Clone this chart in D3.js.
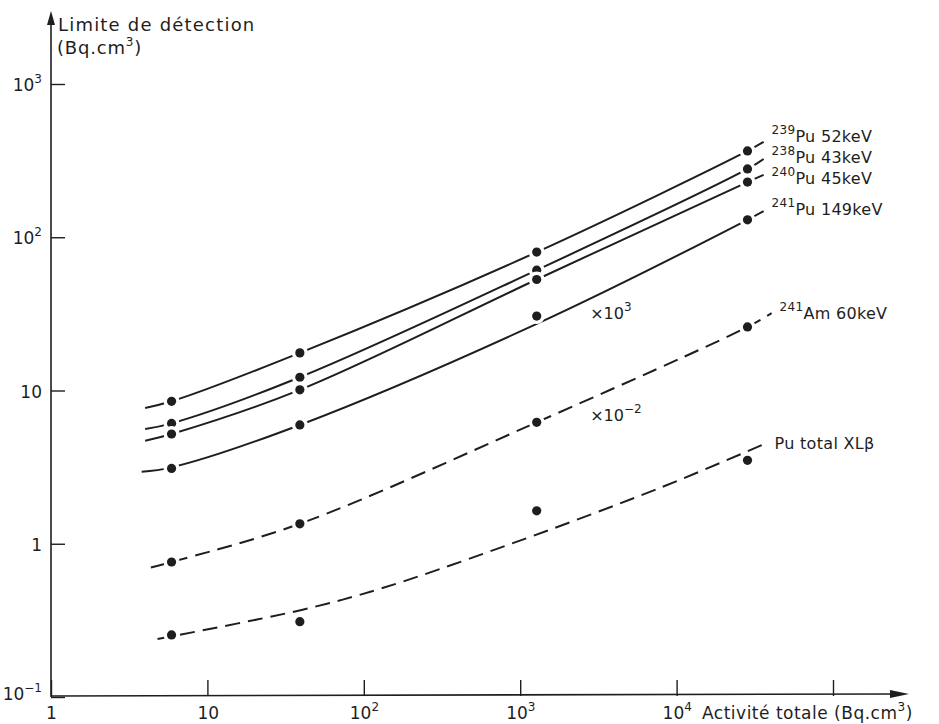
<!DOCTYPE html>
<html>
<head>
<meta charset="utf-8">
<script src="https://cdn.jsdelivr.net/npm/d3@7/dist/d3.min.js"></script>
<style>
body { margin: 0; background: #fff; }
svg text { font-family: "DejaVu Sans", sans-serif; fill: #1e1e1e; }
</style>
</head>
<body>
<div id="chart"></div>
<script>
// measured points (activite totale -> limite de detection)
var activity = [5.9, 39, 1275, 28400];
var pu239 = [8.5, 17.6, 80, 366];
var pu238 = [6.1, 12.2, 61, 279];
var pu240 = [5.2, 10.1, 53, 229];
var pu241 = [3.1, 5.96, 30.6, 130];
var am241 = [0.76, 1.35, 6.2, 26];
var pu_total = [0.254, 0.31, 1.64, 3.5];

// fitted curves as drawn on the figure
var pu239_curve_x = [4, 5.9, 39, 1275, 28400, 36000];
var pu239_curve = [7.7, 8.5, 17.6, 80, 366, 419];
var pu238_curve_x = [4, 5.9, 39, 1275, 28400, 36000];
var pu238_curve = [5.6, 6.1, 12.2, 61, 279, 324];
var pu240_curve_x = [4, 5.9, 39, 1275, 28400, 36000];
var pu240_curve = [4.7, 5.2, 10.1, 53, 229, 255];
var pu241_curve_x = [3.8, 5.9, 39, 1275, 28400, 36000];
var pu241_curve = [2.95, 3.15, 5.96, 27.2, 130, 148];
var am241_curve_x = [4.35, 5.9, 39, 1275, 28400, 40500];
var am241_curve = [0.70, 0.76, 1.35, 6.2, 26, 32];
var pu_total_curve_x = [4.8, 40, 126, 740, 7790, 37600];
var pu_total_curve = [0.239, 0.37, 0.507, 0.94, 2.31, 4.54];

// labels
var label_mass = ["239", "238", "240", "241", "241", ""];
var label_text = ["Pu  52keV", "Pu  43keV", "Pu  45keV", "Pu  149keV", "Am 60keV", "Pu  total  XL\u03b2"];
var multiplier_x = [2800, 2800];
var multiplier_y = [32, 6.9];
var multiplier_text = [["\u00d710", "3"], ["\u00d710", "\u22122"]];

var x_tick_values = [1, 10, 100, 1000, 10000, 100000];
var x_tick_labels = [["1", ""], ["10", ""], ["10", "2"], ["10", "3"], ["10", "4"], ["", ""]];
var y_tick_values = [0.1, 1, 10, 100, 1000];
var y_tick_labels = [["10", "\u22121"], ["1", ""], ["10", ""], ["10", "2"], ["10", "3"]];

var chart = function chart(properties) {
    "use strict";

    var svg = {};
    var x = null;
    var y = null;
    var ink = "#1e1e1e";

    var init = function init(properties) {
        svg = d3.select(properties.div)
            .append("svg")
            .attr("width", 939)
            .attr("height", 724);

        x = d3.scaleLog().domain([1, 100000]).range([51, 833]);
        y = d3.scaleLog().domain([0.1, 1000]).range([697, 84]);
    };

    // text with a small raised part, e.g. 10^3
    var write = function write(g, base, sup, base_first) {
        var t = g.append("text").attr("font-size", 17);
        if (base_first) {
            t.append("tspan").text(base);
            if (sup) {
                t.append("tspan").attr("font-size", 12).attr("dy", -8).text(sup);
            }
        } else {
            if (sup) {
                t.append("tspan").attr("font-size", 12).attr("dy", -8).text(sup);
                t.append("tspan").attr("dy", 8).text(base);
            } else {
                t.append("tspan").text(base);
            }
        }
        return t;
    };

    var draw_axes = function draw_axes() {
        var g = svg.append("g");

        g.append("line")
            .attr("x1", 51).attr("y1", 697).attr("x2", 51).attr("y2", 20)
            .attr("stroke", ink).attr("stroke-width", 1.6);
        g.append("path")
            .attr("d", "M51,11 L47,25 L55,25 Z")
            .attr("fill", ink);

        g.append("line")
            .attr("x1", 51).attr("y1", 696).attr("x2", 896).attr("y2", 694)
            .attr("stroke", ink).attr("stroke-width", 1.6);
        g.append("path")
            .attr("d", "M909,694 L890,690 L890,698 Z")
            .attr("fill", ink);

        var x_axis = d3.axisBottom(x)
            .tickValues(x_tick_values)
            .tickSize(-16)
            .tickFormat("");
        g.append("g")
            .attr("transform", "translate(0,696)")
            .call(x_axis)
            .call(function(a) { a.select(".domain").remove(); })
            .selectAll(".tick line").attr("stroke", ink).attr("stroke-width", 1.4);

        var y_axis = d3.axisLeft(y)
            .tickValues(y_tick_values)
            .tickSize(-14)
            .tickFormat("");
        g.append("g")
            .attr("transform", "translate(51,0)")
            .call(y_axis)
            .call(function(a) { a.select(".domain").remove(); })
            .selectAll(".tick line").attr("stroke", ink).attr("stroke-width", 1.4);

        for (var i = 0; i < x_tick_labels.length; i++) {
            if (!x_tick_labels[i][0]) { continue; }
            write(g, x_tick_labels[i][0], x_tick_labels[i][1], true)
                .attr("x", x(x_tick_values[i]) - (x_tick_labels[i][1] ? 14 : (x_tick_labels[i][0].length * 5)))
                .attr("y", 719);
        }

        for (var j = 0; j < y_tick_labels.length; j++) {
            var yy = y(y_tick_values[j]) + 7;
            if (j === 0) { yy = 700; }
            write(g, y_tick_labels[j][0], y_tick_labels[j][1], true)
                .attr("x", 42)
                .attr("y", yy)
                .attr("text-anchor", "end");
        }

        g.append("text").attr("font-size", 18).attr("letter-spacing", 1.2)
            .attr("x", 58).attr("y", 31).text("Limite de d\u00e9tection");
        write(g, "(Bq.cm", "3", true).attr("x", 57).attr("y", 54)
            .attr("font-size", 18).attr("letter-spacing", 0.8)
            .append("tspan").attr("dy", 8).text(")");

        write(g, "Activit\u00e9 totale (Bq.cm", "3", true)
            .attr("x", 702).attr("y", 719).attr("letter-spacing", 0.5)
            .append("tspan").attr("dy", 8).text(")");
    };

    var draw_series = function draw_series(curve_x, curve_y, pts, dashed) {
        var line = d3.line()
            .x(function(d) { return x(d[0]); })
            .y(function(d) { return y(d[1]); })
            .curve(d3.curveCatmullRom.alpha(0.5));

        svg.append("path")
            .datum(d3.zip(curve_x, curve_y))
            .attr("d", line)
            .attr("fill", "none")
            .attr("stroke", ink)
            .attr("stroke-width", 2)
            .attr("stroke-dasharray", dashed ? "15,8" : null);

        var dots = svg.append("g").selectAll("g")
            .data(d3.zip(activity, pts))
            .enter()
            .append("g")
            .attr("transform", function(d) { return "translate(" + x(d[0]) + "," + y(d[1]) + ")"; });

        dots.append("circle").attr("r", 8).attr("fill", "#fff");
        dots.append("circle").attr("r", 4.6).attr("fill", ink);
    };

    var show = function show() {
        draw_axes();

        var curves_x = [pu239_curve_x, pu238_curve_x, pu240_curve_x, pu241_curve_x, am241_curve_x, pu_total_curve_x];
        var curves = [pu239_curve, pu238_curve, pu240_curve, pu241_curve, am241_curve, pu_total_curve];
        var points = [pu239, pu238, pu240, pu241, am241, pu_total];
        var label_shift = [-6, -2, 3, -2, 0, 0];

        for (var i = 0; i < curves.length; i++) {
            draw_series(curves_x[i], curves[i], points[i], i >= 4);

            var n = curves_x[i].length - 1;
            write(svg, label_text[i], label_mass[i], false)
                .attr("x", x(curves_x[i][n]) + 8)
                .attr("y", y(curves[i][n]) + label_shift[i] + 6)
                .attr("letter-spacing", 0.3)
                .attr("font-size", 16);
        }

        for (var k = 0; k < multiplier_text.length; k++) {
            write(svg, multiplier_text[k][0], multiplier_text[k][1], true)
                .attr("x", x(multiplier_x[k]))
                .attr("y", y(multiplier_y[k]) + 6)
                .attr("font-size", 16);
        }
    };

    init(properties);
    show();

    return {
        show: show
    };
};

chart({ div: "#chart" });
</script>
</body>
</html>
